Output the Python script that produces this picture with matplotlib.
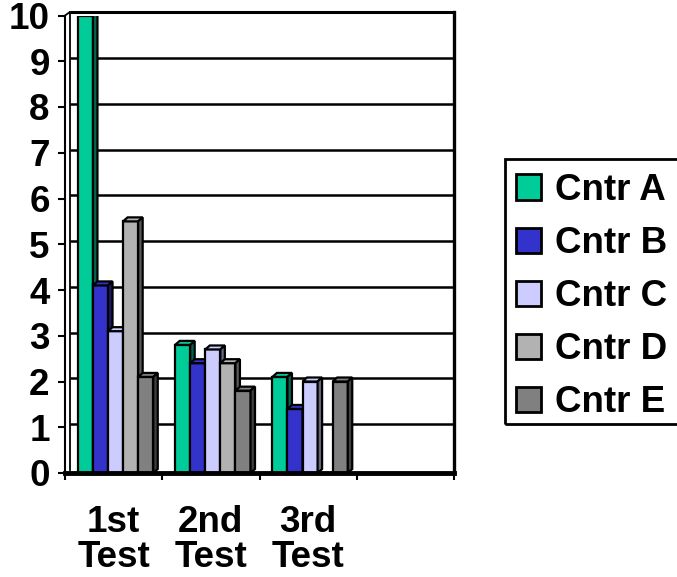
import numpy as np
import matplotlib
matplotlib.use("Agg")
import matplotlib.pyplot as plt
from matplotlib.patches import Polygon, Patch, Rectangle
from matplotlib.ticker import FixedLocator

categories = ["1st\nTest", "2nd\nTest", "3rd\nTest", ""]
series = ["Cntr A", "Cntr B", "Cntr C", "Cntr D", "Cntr E"]
cntr_a = [10.0, 2.8, 2.1]
cntr_b = [4.1, 2.4, 1.4]
cntr_c = [3.1, 2.7, 2.0]
cntr_d = [5.5, 2.4, np.nan]
cntr_e = [2.1, 1.8, 2.0]
values = [cntr_a, cntr_b, cntr_c, cntr_d, cntr_e]
yticks = list(range(0, 11))

front_colors = ["#00CC99", "#3333CC", "#CCCCFF", "#B2B2B2", "#808080"]
side_colors = ["#006650", "#1A1A66", "#666680", "#595959", "#404040"]

plt.rcParams["font.family"] = ["Liberation Sans", "DejaVu Sans"]
plt.rcParams["font.weight"] = "bold"
FS = 26.5

W, H = 677, 577
fig = plt.figure(figsize=(W / 100, H / 100), dpi=100)
ax_l, ax_r, ax_t, ax_b = 65, 454, 15.5, 473
ax = fig.add_axes([ax_l / W, 1 - ax_b / H, (ax_r - ax_l) / W, (ax_b - ax_t) / H])
nslots = len(categories)
ax.set_xlim(0, nslots)
ax.set_ylim(0, 10)

pxu_x = (ax_r - ax_l) / nslots
pxu_y = (ax_b - ax_t) / 10
dx = 4.5 / pxu_x
dy = 4.0 / pxu_y

# back wall grid lines
for v in yticks[1:]:
    ax.plot([dx, nslots], [v + dy * 0.8, v + dy * 0.8], color="black",
            lw=2.2 if v == 10 else 1.8, zorder=1, clip_on=False, solid_capstyle="butt")
# left wall
ax.plot([dx, dx], [dy * 0.8, 10 + dy * 0.8], color="black", lw=1.3, zorder=1, clip_on=False)
ax.plot([0, dx], [10, 10 + dy * 0.8], color="black", lw=1.3, zorder=1, clip_on=False)
# right edge
ax.plot([nslots, nslots], [0, 10 + dy * 0.8], color="black", lw=2.4, zorder=1, clip_on=False)

w = 0.155
lw = 1.6
for i in range(len(cntr_a)):
    c = i + 0.5
    for j, vals in enumerate(values):
        v = vals[i]
        if np.isnan(v):
            continue
        x0 = c + (j - 2.5) * w + 0.02
        z = 3 + j * 3 + i * 20
        ax.bar(x0, v, width=w, align="edge", color=front_colors[j],
               edgecolor="black", linewidth=lw, zorder=z)
        top = Polygon([[x0, v], [x0 + dx, v + dy], [x0 + w + dx, v + dy], [x0 + w, v]],
                      closed=True, facecolor=front_colors[j], edgecolor="black",
                      linewidth=lw, zorder=z + 1)
        side = Polygon([[x0 + w, 0], [x0 + w + dx, dy], [x0 + w + dx, v + dy], [x0 + w, v]],
                       closed=True, facecolor=side_colors[j], edgecolor="black",
                       linewidth=lw, zorder=z + 1)
        ax.add_patch(top)
        ax.add_patch(side)

for s in ["top", "right"]:
    ax.spines[s].set_visible(False)
ax.spines["left"].set_linewidth(1.5)
ax.spines["bottom"].set_linewidth(3.5)
ax.spines["bottom"].set_zorder(100)

ax.set_yticks(yticks)
ax.set_yticklabels([str(t) for t in yticks], fontsize=FS, fontweight="bold")
ax.tick_params(axis="y", direction="out", length=5, width=1.5, pad=6)

ax.set_xticks([k + 0.5 for k in range(nslots)])
ax.set_xticklabels(categories, fontsize=FS, fontweight="bold", linespacing=1.0)
ax.xaxis.set_minor_locator(FixedLocator(list(range(nslots + 1))))
ax.tick_params(axis="x", which="major", length=0, pad=23)
ax.tick_params(axis="x", which="minor", direction="out", length=5, width=1.5)

handles = [Patch(facecolor=front_colors[j], edgecolor="black", linewidth=2) for j in range(5)]
leg = fig.legend(handles, series, loc="upper left",
                 bbox_to_anchor=(505 / W, 1 - 162 / H), bbox_transform=fig.transFigure,
                 prop={"family": "Liberation Sans", "weight": "bold", "size": FS},
                 handlelength=0.68, handleheight=0.68, handletextpad=0.38,
                 labelspacing=0.49, borderpad=0.3, borderaxespad=0,
                 frameon=False)
# legend frame (extends past right edge as in the reference)
fig.patches.append(Rectangle((505 / W, 1 - 424 / H), 200 / W, (424 - 159) / H,
                             transform=fig.transFigure, facecolor="none",
                             edgecolor="black", linewidth=2, zorder=0))

fig.savefig("out.png", dpi=100)
